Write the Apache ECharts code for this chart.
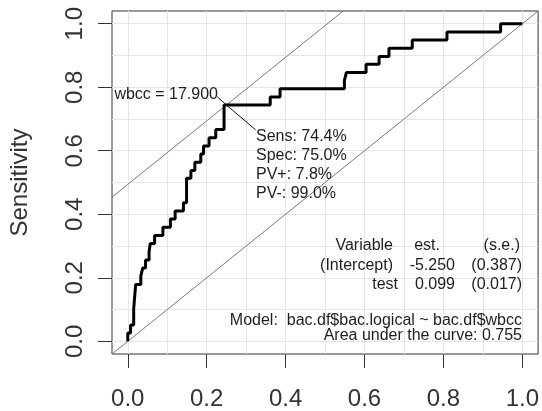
<!DOCTYPE html>
<html><head><meta charset="utf-8">
<script src="https://cdn.jsdelivr.net/npm/echarts@6/dist/echarts.min.js"></script>
<style>html,body{margin:0;padding:0;background:#fff}#c{width:542px;height:411px}</style>
</head><body><div id="c"></div>
<script>
// ROC curve corner points (1 - specificity, sensitivity)
const fpr = [0,0,0.007,0.015,0.020,0.033,0.038,0.045,0.054,0.057,0.068,0.089,0.108,0.120,0.141,0.149,0.160,0.170,0.185,0.192,0.206,0.223,0.244,0.361,0.386,0.549,0.554,0.604,0.637,0.662,0.721,0.809,0.945,1.0];
const tpr = [0,0.026,0.051,0.103,0.179,0.205,0.231,0.256,0.282,0.308,0.333,0.359,0.385,0.410,0.436,0.513,0.538,0.564,0.590,0.615,0.641,0.667,0.744,0.769,0.795,0.821,0.846,0.872,0.897,0.923,0.949,0.974,1.0,1.0];
const tickValues = [0,0.2,0.4,0.6,0.8,1.0];
const gridValues = [0,0.1,0.2,0.3,0.4,0.5,0.6,0.7,0.8,0.9,1.0];
const cutFpr = 0.25;
const cutSens = 0.744;
const cutLabel = 'wbcc = 17.900';
const cutStats = ['Sens: 74.4%','Spec: 75.0%','PV+: 7.8%','PV-: 99.0%'];
const tableHeader = ['Variable','est.','(s.e.)'];
const tableRows = [['(Intercept)','-5.250','(0.387)'],['test','0.099','(0.017)']];
const modelText = 'Model:  bac.df$bac.logical ~ bac.df$wbcc';
const aucText = 'Area under the curve: 0.755';
const yTitle = 'Sensitivity';

const FONT = "'Liberation Sans', Arial, sans-serif";
const TXT = '#1e1e1e';
const lo = -0.04, hi = 1.04;
const b = cutSens - cutFpr;

const chart = echarts.init(document.getElementById('c'), null, {renderer:'canvas'});

function txt(x, y, s, align, size) {
  return {type:'text', x:x, y:y, style:{text:s, fill:TXT, font:(size||16)+'px '+FONT, textAlign:align||'left', textVerticalAlign:'middle'}, z:10};
}
const graphics = [];
graphics.push(txt(218, 95, cutLabel, 'right'));
cutStats.forEach((s,i)=>graphics.push(txt(256, 137 + i*19, s, 'left')));
const colRight = [[393,440,520],[393,455,522],[398,455,522]];
[tableHeader].concat(tableRows).forEach((row,r)=>{
  row.forEach((s,c)=>graphics.push(txt(colRight[r][c], 246 + r*19.5, s, 'right')));
});
graphics.push(txt(522, 321, modelText, 'right'));
graphics.push(txt(522, 336, aucText, 'right'));

const option = {
  animation:false,
  backgroundColor:'#fff',
  grid:{left:112, right:1, top:11, bottom:57, show:true, borderColor:'#333', borderWidth:1, backgroundColor:'transparent'},
  xAxis:{type:'value', min:lo, max:hi,
    axisLine:{show:false, onZero:false}, splitLine:{show:false},
    axisTick:{show:true, customValues:tickValues, length:14, lineStyle:{color:'#333', width:1}},
    axisLabel:{customValues:tickValues, formatter:v=>v.toFixed(1), fontSize:24, color:'#333', margin:33, fontFamily:FONT}},
  yAxis:{type:'value', min:lo, max:hi,
    axisLine:{show:false, onZero:false}, splitLine:{show:false},
    axisTick:{show:true, customValues:tickValues, length:14, lineStyle:{color:'#333', width:1}},
    axisLabel:{customValues:tickValues, formatter:v=>v.toFixed(1), fontSize:24, color:'#333', margin:25, rotate:90, fontFamily:FONT},
    name:yTitle, nameLocation:'middle', nameGap:80, nameTextStyle:{fontSize:24, color:'#333', fontFamily:FONT}},
  series:[
    {type:'line', data:[], silent:true, z:1,
      markLine:{silent:true, symbol:['none','none'], label:{show:false},
        lineStyle:{color:'#e6e6e6', width:1, type:'solid'},
        data: gridValues.map(v=>({xAxis:v})).concat(gridValues.map(v=>({yAxis:v})))}},
    {type:'line', data:[], silent:true, z:2,
      markLine:{silent:true, symbol:['none','none'], label:{show:false},
        lineStyle:{color:'#7a7a7a', width:1, type:'solid'},
        data:[
          [{coord:[lo,lo]},{coord:[hi,hi]}],
          [{coord:[lo,lo+b]},{coord:[hi-b,hi]}]
        ]}},
    {type:'line', data:fpr.map((x,i)=>[x,tpr[i]]), step:'end', showSymbol:false, symbol:'none',
      lineStyle:{color:'#000', width:3}, z:5, silent:true},
    {type:'line', data:[[0.227,0.770],[cutFpr,cutSens],[0.324,0.666]], showSymbol:false, symbol:'none',
      lineStyle:{color:'#111', width:1}, z:6, silent:true}
  ],
  graphic:graphics
};
chart.setOption(option);
</script></body></html>
